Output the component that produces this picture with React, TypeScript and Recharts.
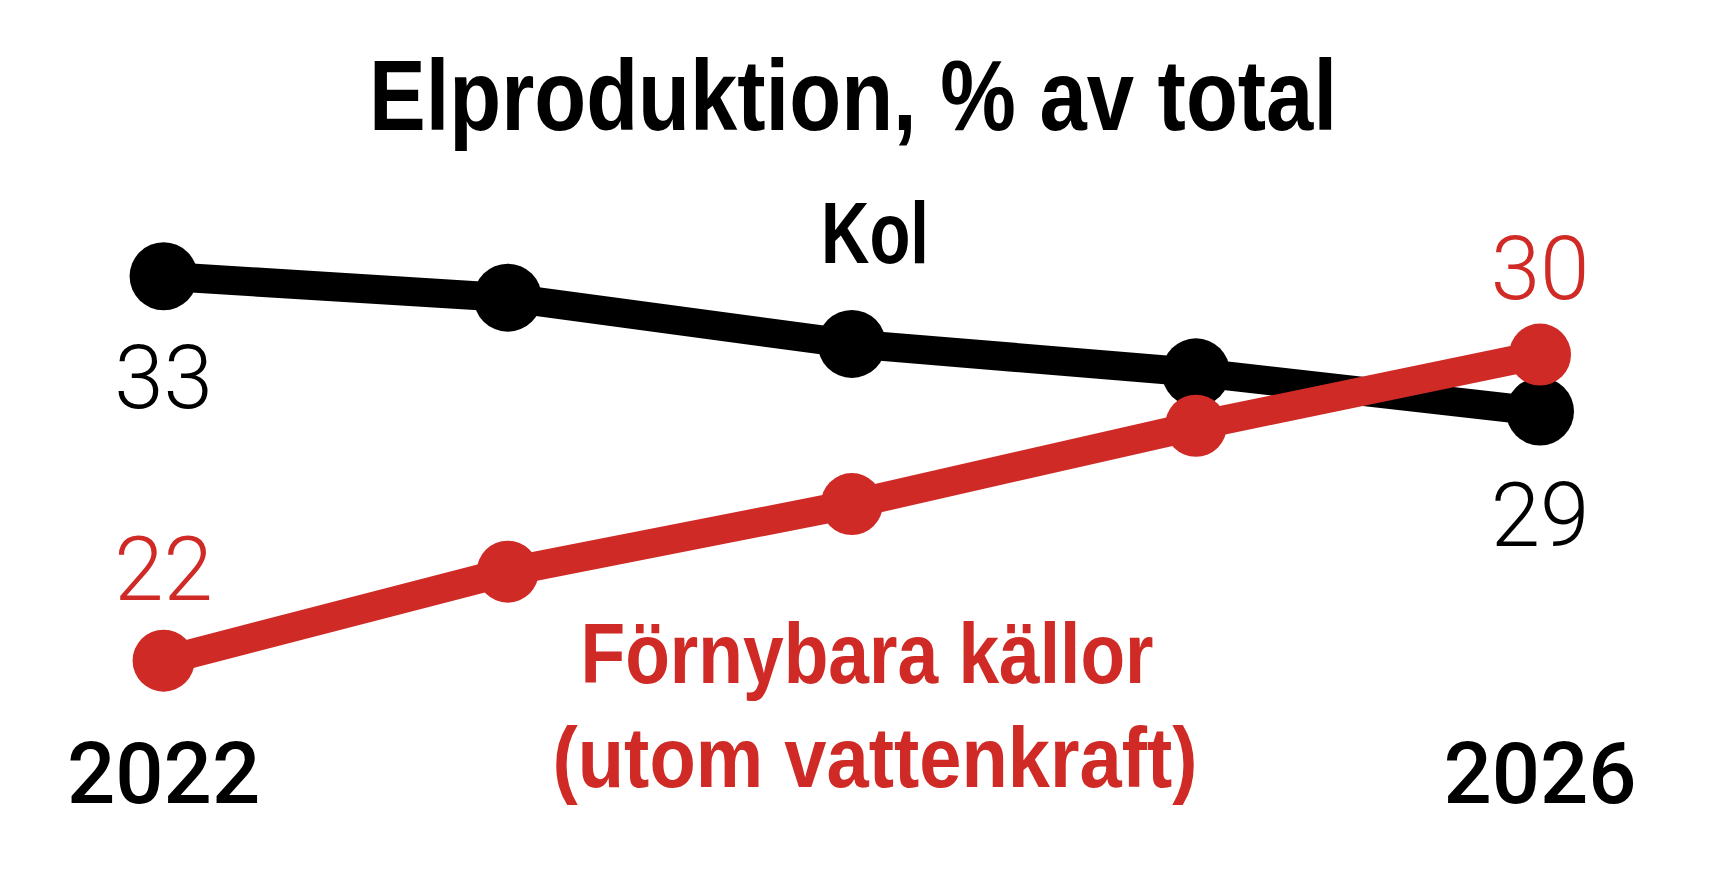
import React from 'react';
import { LineChart, Line, XAxis, YAxis, LabelList } from 'recharts';

const years = [2022, 2023, 2024, 2025, 2026];
const kolValues = [32.7, 32.1, 30.8, 30.0, 28.9];
const fornybaraValues = [21.9, 24.4, 26.3, 28.5, 30.5];
const kolEndLabels = ['33', '29'];
const fornybaraEndLabels = ['22', '30'];
const yearTickLabels = ['2022', '2026'];
const titleText = 'Elproduktion, % av total';
const kolName = 'Kol';
const fornybaraName = ['Förnybara källor', '(utom vattenkraft)'];

const data = years.map((y, i) => ({ year: y, kol: kolValues[i], fornybara: fornybaraValues[i] }));

const RED = '#cf2a25';
const W = 1710;
const H = 892;
const light = "Roboto, 'Open Sans', sans-serif";
const bold = "'Liberation Sans', Arial, sans-serif";

const makeEndLabel = (labels: string[], color: string, dys: number[]) => (props: any) => {
  const { x, y, index } = props;
  if (index !== 0 && index !== years.length - 1) return null;
  const k = index === 0 ? 0 : 1;
  return (
    <text x={x} y={y + dys[k]} textAnchor="middle" fill={color} fontFamily={light} fontWeight={300} fontSize={89}>
      {labels[k]}
    </text>
  );
};

const YearTick = (props: any) => {
  const { x, y, index } = props;
  if (index !== 0 && index !== years.length - 1) return null;
  const text = index === 0 ? yearTickLabels[0] : yearTickLabels[1];
  return (
    <text x={x} y={y + 75} textAnchor="middle" fill="#000" fontFamily={light} fontWeight={500} fontSize={85}>
      {text}
    </text>
  );
};

const CondText = (p: { x: number; y: number; size: number; len: number; fill: string; children: string }) => (
  <text
    x={p.x}
    y={p.y}
    textAnchor="middle"
    fontFamily={bold}
    fontWeight={700}
    fontSize={p.size}
    fill={p.fill}
    textLength={p.len}
    lengthAdjust="spacingAndGlyphs"
  >
    {p.children}
  </text>
);

export default function App() {
  return (
    <div style={{ position: 'absolute', left: 0, top: 0, width: W, height: H, background: '#fff', overflow: 'hidden' }}>
      <LineChart
        width={W}
        height={H}
        data={data}
        margin={{ top: 230, right: 170, bottom: 63.7, left: 163.6 }}
      >
        <XAxis
          dataKey="year"
          axisLine={false}
          tickLine={false}
          tickSize={0}
          tickMargin={0}
          height={100}
          interval={0}
          tick={(p: any) => <YearTick {...p} />}
        />
        <YAxis hide domain={[20, 34]} type="number" />
        <Line
          dataKey="kol"
          stroke="#000"
          strokeWidth={29}
          dot={{ r: 34, fill: '#000', stroke: 'none' }}
          isAnimationActive={false}
        >
          <LabelList dataKey="kol" content={makeEndLabel(kolEndLabels, '#000', [132, 134])} />
        </Line>
        <Line
          dataKey="fornybara"
          stroke={RED}
          strokeWidth={29}
          dot={{ r: 31, fill: RED, stroke: 'none' }}
          isAnimationActive={false}
        >
          <LabelList dataKey="fornybara" content={makeEndLabel(fornybaraEndLabels, RED, [-61, -56])} />
        </Line>
      </LineChart>
      <svg width={W} height={H} style={{ position: 'absolute', left: 0, top: 0, pointerEvents: 'none' }}>
        <CondText x={853} y={130} size={101} len={968} fill="#000">{titleText}</CondText>
        <CondText x={875} y={263} size={87} len={108} fill="#000">{kolName}</CondText>
        <CondText x={867} y={683} size={86} len={573} fill={RED}>{fornybaraName[0]}</CondText>
        <CondText x={875} y={787} size={86} len={645} fill={RED}>{fornybaraName[1]}</CondText>
      </svg>
    </div>
  );
}
